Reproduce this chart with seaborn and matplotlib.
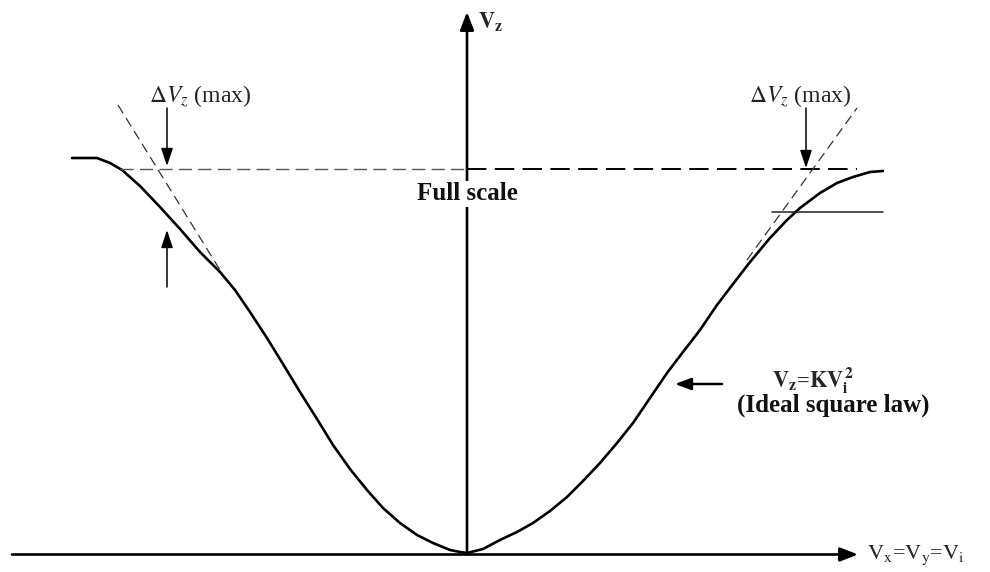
import matplotlib
matplotlib.use("Agg")
import matplotlib.pyplot as plt
import pandas as pd
import seaborn as sns

# Transfer characteristic of a square-law device (input Vi, output Vz)
vi_left = [-3.95, -3.70, -3.57, -3.45, -3.27, -3.07, -2.87, -2.67, -2.47,
           -2.32, -2.17, -2.00, -1.84, -1.67, -1.50, -1.34, -1.17, -1.00,
           -0.84, -0.67, -0.50, -0.34, -0.17, -0.07, 0.0]
vz_left = [3.95, 3.95, 3.90, 3.83, 3.67, 3.46, 3.24, 3.01, 2.81,
           2.63, 2.41, 2.15, 1.89, 1.61, 1.34, 1.08, 0.84, 0.63,
           0.45, 0.30, 0.18, 0.10, 0.03, 0.01, 0.0]
vi_right = [0.16, 0.33, 0.50, 0.66, 0.83, 1.00, 1.16, 1.33, 1.50, 1.66,
            1.83, 2.00, 2.16, 2.33, 2.50, 2.66, 2.83, 3.03, 3.20, 3.33,
            3.53, 3.70, 3.86, 4.03, 4.16]
vz_right = [0.04, 0.13, 0.21, 0.30, 0.42, 0.56, 0.72, 0.90, 1.10, 1.30,
            1.55, 1.80, 2.01, 2.23, 2.48, 2.69, 2.91, 3.15, 3.33, 3.45,
            3.60, 3.70, 3.76, 3.81, 3.82]

full_scale = 3.84          # full-scale output level
knee_level = 3.41          # level where the right branch departs from ideal
tangent_left = ([-3.49, -2.47], [4.48, 2.83])
tangent_right = ([2.80, 3.90], [2.93, 4.45])

sns.set_theme(style="white")
plt.rcParams["font.family"] = ["Liberation Serif", "DejaVu Serif"]
plt.rcParams["mathtext.fontset"] = "stix"
plt.rcParams["lines.scale_dashes"] = False

fig = plt.figure(figsize=(9.9, 5.72), dpi=100)
ax = fig.add_axes([0, 0, 1, 1])
ax.set_xlim(-4.67, 5.23)
ax.set_ylim(-0.19, 5.53)
ax.axis("off")

curve = pd.DataFrame({"Vi": vi_left + vi_right, "Vz": vz_left + vz_right})
sns.lineplot(data=curve, x="Vi", y="Vz", sort=False, color="black",
             linewidth=1.9, ax=ax)
for ln in ax.get_lines():
    ln.set_solid_joinstyle("round")
    ln.set_solid_capstyle("round")

# coordinate axes with arrowheads
ax.annotate("", xy=(3.91, -0.015), xytext=(-4.55, -0.015),
            arrowprops=dict(arrowstyle="-|>,head_length=0.9,head_width=0.35",
                            color="black", lw=1.9, shrinkA=0, shrinkB=0))
ax.annotate("", xy=(0, 5.41), xytext=(0, -0.015),
            arrowprops=dict(arrowstyle="-|>,head_length=0.9,head_width=0.35",
                            color="black", lw=1.9, shrinkA=0, shrinkB=0))

# full-scale level
ax.plot([-3.47, 0], [full_scale, full_scale], color="#555555", lw=1.0,
        linestyle=(0, (9.5, 4.5)))
ax.plot([0, 3.90], [full_scale, full_scale], color="black", lw=1.4,
        linestyle=(0, (14, 6)))
ax.text(0, 3.59, "Full scale", ha="center", va="center", fontsize=18,
        fontweight="bold", color="#111111",
        bbox=dict(facecolor="white", edgecolor="none", pad=1.0))

# ideal square-law tangents
ax.plot(*tangent_left, color="#333333", lw=0.9, linestyle=(0, (7, 4)))
ax.plot(*tangent_right, color="#333333", lw=0.9, linestyle=(0, (7, 4)))
ax.plot([3.05, 4.16], [knee_level, knee_level], color="#222222", lw=1.1)

# deviation markers
arrow_kw = dict(arrowstyle="-|>,head_length=0.9,head_width=0.3",
                color="black", lw=1.1, shrinkA=0, shrinkB=0)
ax.annotate("", xy=(-3.00, 3.87), xytext=(-3.00, 4.45), arrowprops=arrow_kw)
ax.annotate("", xy=(-3.00, 3.23), xytext=(-3.00, 2.66), arrowprops=arrow_kw)
ax.annotate("", xy=(3.39, 3.85), xytext=(3.39, 4.45), arrowprops=arrow_kw)
ax.text(-2.67, 4.57, r"$\Delta V_z$ (max)", ha="center", va="center",
        fontsize=17, color="#222222")
ax.text(3.33, 4.57, r"$\Delta V_z$ (max)", ha="center", va="center",
        fontsize=17, color="#222222")

# axis labels
ax.text(0.11, 5.31, r"$\mathbf{V_z}$", ha="left", va="center", fontsize=16)
ax.text(4.00, -0.02, r"$\mathrm{V_x}$=$\mathrm{V_y}$=$\mathrm{V_i}$",
        ha="left", va="center", fontsize=16)

# ideal law callout
ax.annotate("", xy=(2.08, 1.69), xytext=(2.55, 1.69),
            arrowprops=dict(arrowstyle="-|>,head_length=0.8,head_width=0.3",
                            color="black", lw=1.8, shrinkA=0, shrinkB=0))
ax.text(3.46, 1.72, r"$\mathbf{V_z}$=$\mathbf{KV_i^{\,2}}$", ha="center",
        va="center", fontsize=16, fontweight="bold")
ax.text(3.66, 1.48, "(Ideal square law)", ha="center", va="center",
        fontsize=18, fontweight="bold", color="#111111")

fig.savefig("out.png", dpi=100, facecolor="white")
